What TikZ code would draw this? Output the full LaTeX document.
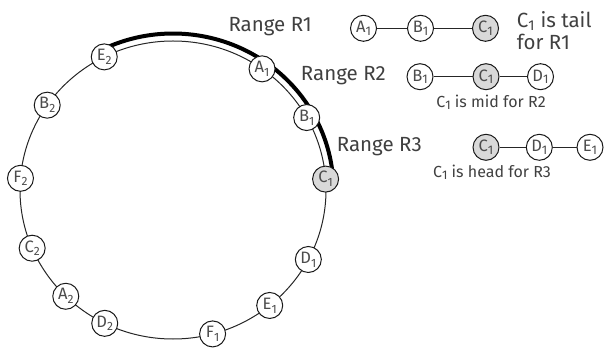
\documentclass[tikz,border=0pt]{standalone}
\usepackage{fontspec}
\setmainfont{Fira Sans}
\newcommand\csub[1]{\raisebox{-0.25ex}{\fontsize{12.5}{12.5}\selectfont #1}}
\newcommand\rsub[1]{\raisebox{-0.45ex}{\fontsize{12}{12}\selectfont #1}}
\begin{document}
\begin{tikzpicture}[x=1pt,y=1pt,
  rn/.style={circle,draw=black!90,line width=1pt,fill=white,minimum size=26pt,inner sep=0pt,text=black!70,font=\fontsize{16.5}{16.5}\selectfont},
  gn/.style={rn,fill=black!15},
  lbl/.style={text=black!75,font=\fontsize{20.5}{22}\selectfont,inner sep=0pt},
  captext/.style={text=black!75,font=\fontsize{16}{16}\selectfont,inner sep=0pt},
  link/.style={draw=black!85,line width=1pt},
  rim/.style={draw=black,line width=4pt}]
\useasboundingbox (0,0) rectangle (604,348);
\begin{scope}[shift={(173,158)}]
\draw[link,line width=1pt] (0,0) ellipse [x radius=153, y radius=149];
\draw[rim] (116.7:160.5pt and 156.5pt) arc[start angle=116.7,end angle=4.2,x radius=160.5,y radius=156.5];
\node[rn] (E2) at (116.7:153pt and 149pt) {E\rsub{2}};
\node[rn] (A1) at (54.4:153pt and 149pt) {A\rsub{1}};
\node[rn] (B1) at (29.1:153pt and 149pt) {B\rsub{1}};
\node[gn] (C1) at (4.2:153pt and 149pt) {C\rsub{1}};
\node[rn] (D1) at (-27.8:153pt and 149pt) {D\rsub{1}};
\node[rn] (E1) at (-50.8:153pt and 149pt) {E\rsub{1}};
\node[rn] (F1) at (-75:153pt and 149pt) {F\rsub{1}};
\node[rn] (D2) at (-116.5:153pt and 149pt) {D\rsub{2}};
\node[rn] (A2) at (-134.5:153pt and 149pt) {A\rsub{2}};
\node[rn] (C2) at (-157:153pt and 149pt) {C\rsub{2}};
\node[rn] (F2) at (175.5:153pt and 149pt) {F\rsub{2}};
\node[rn] (B2) at (145.3:153pt and 149pt) {B\rsub{2}};
\end{scope}
% chains
\node[rn] (pa) at (363.5,319.7) {A\csub{1}};
\node[rn] (pb) at (420.5,319.7) {B\csub{1}};
\node[gn] (pc) at (485.5,319.7) {C\csub{1}};
\draw[link] (pa) -- (pb) (pb) -- (pc);
\node[rn] (qb) at (420,271.3) {B\csub{1}};
\node[gn] (qc) at (486,271.3) {C\csub{1}};
\node[rn] (qd) at (540.5,271.3) {D\csub{1}};
\draw[link] (qb) -- (qc) (qc) -- (qd);
\node[gn] (sc) at (486,200.7) {C\csub{1}};
\node[rn] (sd) at (539.3,200.7) {D\csub{1}};
\node[rn] (se) at (590,200.7) {E\csub{1}};
\draw[link] (sc) -- (sd) (sd) -- (se);
% labels
\node[lbl,anchor=east] (r1) at (312,321.3) {Range R1};
\node[lbl,anchor=east] (r2) at (386,272) {Range R2};
\node[lbl,anchor=east] (r3) at (422,201) {Range R3};
\node[lbl,anchor=west,align=left] (t1) at (516.7,317) {C\textsubscript{1} is tail\\for R1};
\node[captext] (t2) at (491,246) {C\csub{1} is mid for R2};
\node[captext] (t3) at (492,175.3) {C\csub{1} is head for R3};
\end{tikzpicture}
\end{document}
